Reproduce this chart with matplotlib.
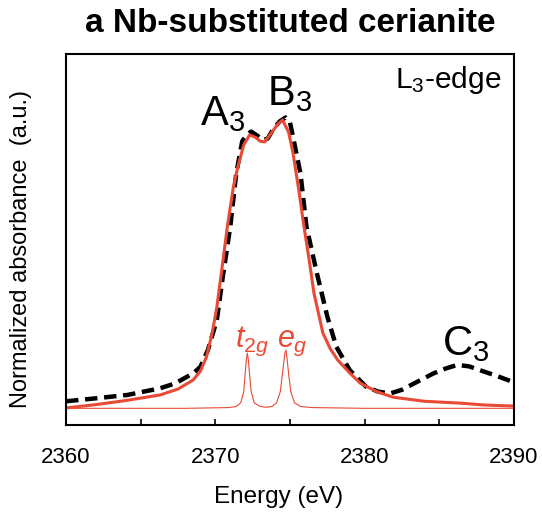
import matplotlib
matplotlib.use('Agg')
import matplotlib.pyplot as plt

plt.rcParams['font.family'] = 'Liberation Sans'
plt.rcParams['mathtext.fontset'] = 'custom'
plt.rcParams['mathtext.rm'] = 'Liberation Sans'
plt.rcParams['mathtext.it'] = 'Liberation Sans:italic'
plt.rcParams['mathtext.default'] = 'regular'

# Experimental Nb L3-edge spectrum (dashed)
exp_energy = [2360.0, 2362.0, 2364.1, 2366.3, 2367.3, 2368.1, 2368.6, 2369.0, 2369.5,
              2370.1, 2370.5, 2371.0, 2371.4, 2371.8, 2372.1, 2372.4, 2372.8, 2373.2,
              2373.5, 2373.9, 2374.3, 2374.7, 2375.0, 2375.2, 2375.7, 2376.1, 2376.8,
              2377.5, 2378.1, 2379.0, 2380.1, 2380.9, 2381.7, 2382.5, 2383.3, 2384.6,
              2385.4, 2386.2, 2387.0, 2387.7, 2388.8, 2390.0]
exp_absorb = [0.064, 0.072, 0.081, 0.099, 0.112, 0.130, 0.142, 0.157, 0.202,
              0.283, 0.400, 0.535, 0.678, 0.765, 0.783, 0.791, 0.780, 0.768,
              0.772, 0.799, 0.818, 0.829, 0.815, 0.777, 0.678, 0.535, 0.409,
              0.292, 0.211, 0.148, 0.103, 0.090, 0.085, 0.095, 0.112, 0.139,
              0.152, 0.162, 0.158, 0.148, 0.133, 0.115]

# Calculated spectrum (solid)
calc_energy = [2360.0, 2362.0, 2364.0, 2366.3, 2367.5, 2368.5, 2369.0, 2369.4, 2369.8,
               2370.1, 2370.5, 2370.8, 2371.2, 2371.5, 2371.9, 2372.3, 2372.7, 2373.0,
               2373.3, 2373.8, 2374.2, 2374.5, 2374.9, 2375.2, 2375.6, 2375.9, 2376.3,
               2376.6, 2377.2, 2377.7, 2378.2, 2379.0, 2379.7, 2380.8, 2381.9, 2384.0,
               2386.4, 2388.0, 2390.0]
calc_absorb = [0.046, 0.055, 0.066, 0.081, 0.097, 0.121, 0.145, 0.183, 0.250,
               0.318, 0.440, 0.534, 0.640, 0.695, 0.755, 0.782, 0.775, 0.765,
               0.763, 0.790, 0.812, 0.822, 0.790, 0.733, 0.630, 0.544, 0.440,
               0.356, 0.248, 0.205, 0.175, 0.140, 0.113, 0.090, 0.075, 0.064,
               0.059, 0.054, 0.051]

# t2g / eg transitions (thin lines)
stick_energy = [2360.0, 2368.0, 2370.9, 2371.4, 2371.7, 2371.9, 2372.0, 2372.07, 2372.14,
                2372.21, 2372.28, 2372.4, 2372.6, 2373.0, 2373.4, 2373.8, 2374.1, 2374.35,
                2374.5, 2374.6, 2374.66, 2374.73, 2374.8, 2374.9, 2375.05, 2375.3, 2375.7,
                2376.5, 2380.0, 2390.0]
stick_absorb = [0.045, 0.045, 0.047, 0.050, 0.060, 0.090, 0.140, 0.175, 0.194,
                0.175, 0.140, 0.090, 0.060, 0.050, 0.048, 0.050, 0.060, 0.090,
                0.140, 0.175, 0.195, 0.202, 0.180, 0.140, 0.090, 0.060, 0.050,
                0.047, 0.045, 0.045]

red = '#e84a35'

fig = plt.figure(figsize=(5.42, 5.13), dpi=100)
ax = fig.add_axes([0.1218, 0.1715, 0.8266, 0.7232])

ax.plot(exp_energy, exp_absorb, color='black', lw=3.2, dashes=(2.8, 1.5))
ax.plot(calc_energy, calc_absorb, color=red, lw=2.2)
ax.plot(stick_energy, stick_absorb, color=red, lw=0.8)

ax.set_xlim(2360, 2390)
ax.set_ylim(0, 1)
ax.set_xticks([2360, 2365, 2370, 2375, 2380, 2385, 2390])
ax.set_xticklabels(['2360', '', '2370', '', '2380', '', '2390'])
ax.tick_params(axis='x', direction='in', length=4, width=1.2, pad=16, labelsize=16)
ax.set_yticks([])
for s in ax.spines.values():
    s.set_linewidth(1.5)

ax.set_xlabel('Energy (eV)', fontsize=17.5)
ax.xaxis.set_label_coords(0.475, -0.165)
ax.set_ylabel('Normalized absorbance  (a.u.)', fontsize=17)
ax.yaxis.set_label_coords(-0.075, 0.474)
ax.set_title('a Nb-substituted cerianite', fontsize=24, fontweight='bold', pad=16)

ax.text(2368.97, 0.809, 'A$_3$', fontsize=30, va='baseline', ha='left')
ax.text(2373.46, 0.863, 'B$_3$', fontsize=30, va='baseline', ha='left')
ax.text(2385.18, 0.189, 'C$_3$', fontsize=30, va='baseline', ha='left')
ax.text(2382.03, 0.908, 'L$_3$-edge', fontsize=21.5, va='baseline', ha='left')
ax.text(2371.32, 0.210, r'$\mathit{t}_{\mathit{2g}}$', fontsize=22, color=red,
        va='baseline', ha='left')
ax.text(2374.13, 0.210, r'$\mathit{e}_{\mathit{g}}$', fontsize=22, color=red,
        va='baseline', ha='left')

fig.savefig('out.png', dpi=100)
